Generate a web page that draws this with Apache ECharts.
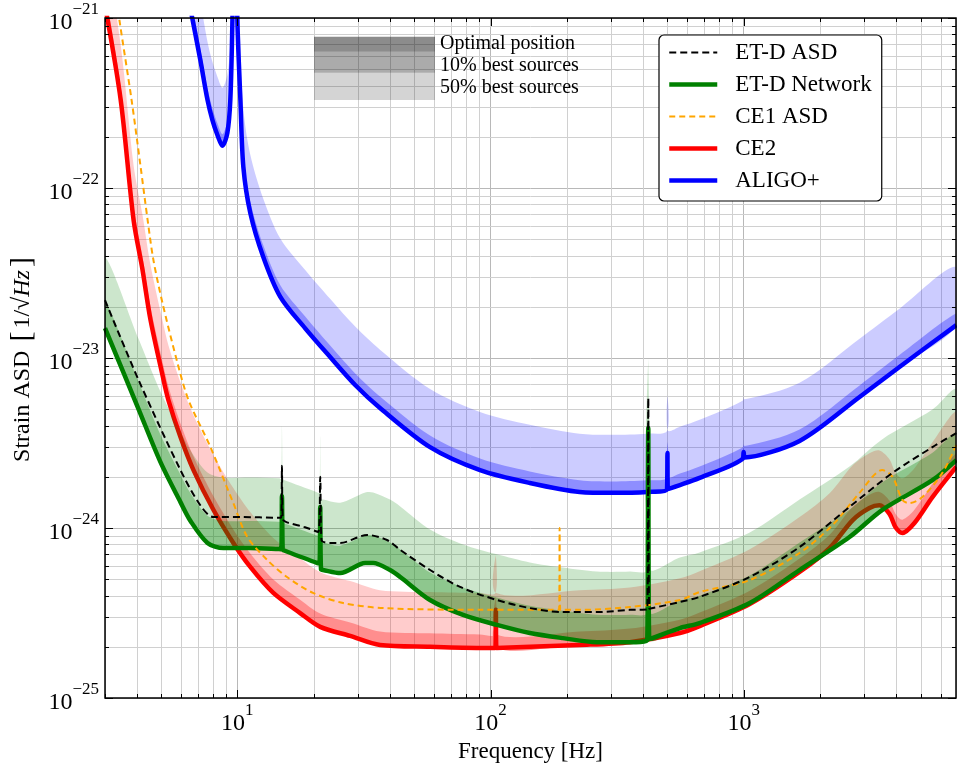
<!DOCTYPE html>
<html><head><meta charset="utf-8">
<script src="https://cdn.jsdelivr.net/npm/echarts@6/dist/echarts.min.js"></script>
<style>html,body{margin:0;padding:0;background:#fff}#c{width:957px;height:763px}</style>
</head><body><div id="c"></div>
<script>
// ---------------- data ----------------
const etdFreq = [3, 4.07, 5.96, 7.14, 8.04, 10.3, 14.5, 14.9, 15.0, 15.1, 15.7, 18.5, 20.9, 21.25, 21.5, 23.3, 25.5, 32.6, 39, 44, 57.7, 75.8, 106, 143, 193, 263, 355, 416, 420, 424, 560, 670, 1057, 1663, 2619, 3873, 5570, 6920];
const etdAsd = [2.19e-23, 7.43e-24, 2.19e-24, 1.36e-24, 1.16e-24, 1.16e-24, 1.15e-24, 1.15e-24, 2.32e-24, 1.13e-24, 1.08e-24, 1.01e-24, 9.47e-25, 2.0e-24, 8.5e-25, 8.17e-25, 8.17e-25, 9.1e-25, 8.5e-25, 7.43e-25, 5.66e-25, 4.5e-25, 3.77e-25, 3.38e-25, 3.2e-25, 3.2e-25, 3.3e-25, 3.32e-25, 5.82e-24, 3.35e-25, 3.67e-25, 3.93e-25, 5.15e-25, 7.73e-25, 1.33e-24, 2.11e-24, 2.99e-24, 3.62e-24];

const netFreq = [3, 4.07, 4.97, 5.96, 6.53, 7.62, 8.81, 11.25, 14.6, 14.9, 15.0, 15.1, 15.2, 20.7, 21.1, 21.25, 21.4, 21.8, 25.5, 32, 34.4, 40.1, 44, 57.7, 77.9, 106, 143, 193, 263, 355, 416, 420, 424, 560, 670, 1057, 1663, 2619, 3532, 5570, 6920];
const netLine = [1.50e-23, 5.01e-24, 2.44e-24, 1.42e-24, 1.10e-24, 8.17e-25, 7.62e-25, 7.62e-25, 7.52e-25, 7.5e-25, 1.54e-24, 7.45e-25, 7.4e-25, 6.22e-25, 6.2e-25, 1.33e-24, 5.7e-25, 5.66e-25, 5.43e-25, 6.22e-25, 6.22e-25, 5.66e-25, 5.15e-25, 3.77e-25, 3.08e-25, 2.69e-25, 2.41e-25, 2.25e-25, 2.13e-25, 2.13e-25, 2.19e-25, 3.87e-24, 2.22e-25, 2.58e-25, 2.76e-25, 3.62e-25, 5.66e-25, 8.85e-25, 1.28e-24, 1.91e-24, 2.51e-24];
const net10 = [2.18e-23, 7.26e-24, 3.54e-24, 2.06e-24, 1.60e-24, 1.18e-24, 1.10e-24, 1.10e-24, 1.09e-24, 1.09e-24, 2.23e-24, 1.08e-24, 1.07e-24, 9.02e-25, 8.99e-25, 1.93e-24, 8.27e-25, 8.21e-25, 7.87e-25, 9.02e-25, 9.02e-25, 8.21e-25, 7.47e-25, 5.47e-25, 4.47e-25, 3.9e-25, 3.49e-25, 3.26e-25, 3.09e-25, 3.09e-25, 3.18e-25, 5.61e-24, 3.22e-25, 3.74e-25, 4.0e-25, 5.25e-25, 8.21e-25, 1.28e-24, 1.86e-24, 2.77e-24, 3.64e-24];
const net50 = [3.90e-23, 1.30e-23, 6.34e-24, 3.69e-24, 2.86e-24, 2.12e-24, 1.98e-24, 1.98e-24, 1.96e-24, 1.95e-24, 4.0e-24, 1.94e-24, 1.92e-24, 1.62e-24, 1.61e-24, 3.46e-24, 1.48e-24, 1.47e-24, 1.41e-24, 1.62e-24, 1.62e-24, 1.47e-24, 1.34e-24, 9.8e-25, 8.0e-25, 7.0e-25, 6.27e-25, 5.85e-25, 5.54e-25, 5.54e-25, 5.69e-25, 1.01e-23, 5.77e-25, 6.71e-25, 7.18e-25, 9.41e-25, 1.47e-24, 2.3e-24, 3.33e-24, 4.97e-24, 6.53e-24];

const ce1Freq = [3.21, 3.42, 3.82, 4.14, 4.42, 4.66, 5.06, 5.80, 6.41, 7.83, 9.64, 10.95, 13.13, 15.7, 19.9, 26.2, 37.7, 90.9, 186.5, 187.5, 188.5, 225, 355, 560, 670, 1057, 1663, 2244, 2870, 3532, 3873, 4238, 4518, 5082, 6095, 6920];
const ce1Asd = [1.91e-21, 9.73e-22, 3.3e-22, 1.36e-22, 6.49e-23, 3.77e-23, 2.11e-23, 9.35e-24, 5.66e-24, 2.99e-24, 1.40e-24, 8.85e-25, 6.48e-25, 5.15e-25, 4.15e-25, 3.62e-25, 3.38e-25, 3.3e-25, 3.3e-25, 1.0e-24, 3.3e-25, 3.3e-25, 3.43e-25, 3.77e-25, 4.2e-25, 4.94e-25, 7.13e-25, 1.04e-24, 1.61e-24, 2.19e-24, 2.0e-24, 1.46e-24, 1.40e-24, 1.52e-24, 2.11e-24, 3.08e-24];

const ce2Freq = [3, 3.46, 3.89, 4.22, 4.54, 5.06, 5.34, 5.96, 6.71, 8.04, 9.64, 11.25, 13.87, 17.7, 21.25, 27.9, 36.6, 57.7, 90.9, 104.5, 105, 105.5, 225, 355, 560, 670, 1057, 1663, 2185, 2692, 3141, 3439, 3767, 3981, 4238, 4728, 5570, 6920];
const ce2Line = [1.19e-21, 3.3e-22, 6.49e-23, 3.3e-23, 1.67e-23, 7.94e-24, 5.66e-24, 3.43e-24, 2.19e-24, 1.28e-24, 8.17e-25, 5.9e-25, 4.15e-25, 3.16e-25, 2.62e-25, 2.32e-25, 2.05e-25, 2.0e-25, 1.97e-25, 1.97e-25, 3.3e-25, 1.97e-25, 2.05e-25, 2.13e-25, 2.41e-25, 2.65e-25, 3.57e-25, 5.51e-25, 7.62e-25, 1.11e-24, 1.31e-24, 1.36e-24, 1.21e-24, 1.01e-24, 9.35e-25, 1.07e-24, 1.52e-24, 2.29e-24];
const ce2_10 = [1.43e-21, 3.96e-22, 7.79e-23, 3.96e-23, 2.0e-23, 9.53e-24, 6.79e-24, 4.12e-24, 2.63e-24, 1.54e-24, 9.8e-25, 7.08e-25, 4.98e-25, 3.79e-25, 3.14e-25, 2.78e-25, 2.46e-25, 2.4e-25, 2.36e-25, 2.36e-25, 3.96e-25, 2.36e-25, 2.46e-25, 2.56e-25, 2.89e-25, 3.18e-25, 4.28e-25, 6.61e-25, 9.14e-25, 1.33e-24, 1.57e-24, 1.63e-24, 1.45e-24, 1.21e-24, 1.12e-24, 1.28e-24, 1.82e-24, 2.75e-24];
const ce2_50 = [2.5e-21, 6.93e-22, 1.36e-22, 6.93e-23, 3.51e-23, 1.67e-23, 1.19e-23, 7.2e-24, 4.6e-24, 2.69e-24, 1.72e-24, 1.24e-24, 8.72e-25, 6.64e-25, 5.5e-25, 4.87e-25, 4.31e-25, 4.2e-25, 4.14e-25, 4.14e-25, 6.93e-25, 4.14e-25, 4.31e-25, 4.47e-25, 5.06e-25, 5.57e-25, 7.5e-25, 1.16e-24, 1.6e-24, 2.33e-24, 2.75e-24, 2.86e-24, 2.54e-24, 2.12e-24, 1.96e-24, 2.25e-24, 3.19e-24, 4.81e-24];

const aligoFreq = [6.47, 7.14, 7.62, 7.97, 8.34, 8.73, 9.13, 9.38, 9.56, 9.78, 10.0, 10.28, 10.56, 11.25, 12.66, 14.78, 18.5, 23.3, 29.2, 36.6, 57.7, 90.9, 143, 225, 304, 416, 498, 500, 502, 560, 670, 990, 1000, 1010, 1663, 2870, 4125, 6920];
const aligoLine = [1.21e-21, 5.66e-22, 3.3e-22, 2.51e-22, 2.05e-22, 1.77e-22, 2.11e-22, 3.3e-22, 9.73e-22, 1e-20, 9.73e-22, 3.3e-22, 1.33e-22, 7.13e-23, 3.93e-23, 2.29e-23, 1.50e-23, 1.01e-23, 6.94e-24, 5.08e-24, 2.99e-24, 2.19e-24, 1.84e-24, 1.63e-24, 1.61e-24, 1.63e-24, 1.69e-24, 2.76e-24, 1.70e-24, 1.79e-24, 1.97e-24, 2.55e-24, 2.8e-24, 2.6e-24, 3.25e-24, 5.9e-24, 8.86e-24, 1.56e-23];
const aligo10 = [1.42e-21, 6.62e-22, 3.86e-22, 2.94e-22, 2.4e-22, 2.07e-22, 2.47e-22, 3.86e-22, 1.14e-21, 1.17e-20, 1.14e-21, 3.86e-22, 1.56e-22, 8.34e-23, 4.6e-23, 2.68e-23, 1.76e-23, 1.18e-23, 8.12e-24, 5.94e-24, 3.5e-24, 2.56e-24, 2.15e-24, 1.91e-24, 1.88e-24, 1.91e-24, 1.98e-24, 3.23e-24, 1.99e-24, 2.09e-24, 2.3e-24, 2.98e-24, 3.28e-24, 3.04e-24, 3.8e-24, 6.9e-24, 1.04e-23, 1.83e-23];
const aligo50 = [2.66e-21, 1.25e-21, 7.26e-22, 5.52e-22, 4.51e-22, 3.89e-22, 4.64e-22, 7.26e-22, 2.14e-21, 2.2e-20, 2.14e-21, 7.26e-22, 2.93e-22, 1.57e-22, 8.65e-23, 5.04e-23, 3.3e-23, 2.22e-23, 1.53e-23, 1.12e-23, 6.58e-24, 4.82e-24, 4.05e-24, 3.59e-24, 3.54e-24, 3.59e-24, 3.72e-24, 6.07e-24, 3.74e-24, 3.94e-24, 4.33e-24, 5.61e-24, 6.16e-24, 5.72e-24, 7.15e-24, 1.3e-23, 1.95e-23, 3.43e-23];

const legendNames = ['ET-D ASD', 'ET-D Network', 'CE1 ASD', 'CE2', 'ALIGO+'];
const shadeNames = ['Optimal position', '10% best sources', '50% best sources'];

const xMajor = [10, 100, 1000];
const xMinor = [3, 4, 5, 6, 7, 8, 9, 20, 30, 40, 50, 60, 70, 80, 90, 200, 300, 400, 500, 600, 700, 800, 900, 2000, 3000, 4000, 5000, 6000];
const yMajor = [1e-25, 1e-24, 1e-23, 1e-22, 1e-21];
const yMinor = [2e-25, 3e-25, 4e-25, 5e-25, 6e-25, 7e-25, 8e-25, 9e-25,
  2e-24, 3e-24, 4e-24, 5e-24, 6e-24, 7e-24, 8e-24, 9e-24,
  2e-23, 3e-23, 4e-23, 5e-23, 6e-23, 7e-23, 8e-23, 9e-23,
  2e-22, 3e-22, 4e-22, 5e-22, 6e-22, 7e-22, 8e-22, 9e-22];

// ---------------- chart ----------------
// ECharts rounds numbers to at most 20 decimals, so the strain axis works in
// units of 1e-25 (value * 1e25) and the labels restore the true exponent.
const Y_UNIT_EXP = 25;
const YS = 1e25;
const ys = v => v * YS;
const SMOOTH = 0.3;

const FONT = '"Liberation Serif", "Times New Roman", serif';
const chart = echarts.init(document.getElementById('c'), null, {renderer: 'canvas'});

function pairs(f, v) { return f.map((x, i) => [x, ys(v[i])]); }

function supFmt(value, shift) {
  const e = Math.log10(+value);
  const r = Math.round(e);
  if (Math.abs(e - r) > 0.01) return '';
  const p = r - shift;
  return '{b|10}{s|' + (p < 0 ? '\u2212' + (-p) : String(p)) + '}';
}
const richLabel = {
  b: {fontFamily: FONT, fontSize: 24, color: '#000', lineHeight: 34, verticalAlign: 'bottom'},
  s: {fontFamily: FONT, fontSize: 17, color: '#000', lineHeight: 17, verticalAlign: 'top'}
};

function lineSeries(name, f, v, color, width, dash, z) {
  return {
    name: name, type: 'line', data: pairs(f, v), symbol: 'none', showSymbol: false,
    z: z, clip: true, silent: true, smooth: SMOOTH,
    lineStyle: {color: color, width: width, type: dash || 'solid', cap: 'butt', join: 'round'},
    itemStyle: {color: color}, emphasis: {disabled: true}
  };
}

function bandSeries(name, f, lo, hi, color, z) {
  return {
    name: name, type: 'custom', z: z, silent: true, clip: true,
    data: [[f[0], ys(lo[0])]],
    renderItem: function (params, api) {
      const pts = [];
      for (let i = 0; i < f.length; i++) pts.push(api.coord([f[i], ys(hi[i])]));
      for (let i = f.length - 1; i >= 0; i--) pts.push(api.coord([f[i], ys(lo[i])]));
      const cs = params.coordSys;
      return {
        type: 'polygon', shape: {points: pts, smooth: SMOOTH}, style: {fill: color, stroke: null},
        clipPath: {type: 'rect', shape: {x: cs.x, y: cs.y, width: cs.width, height: cs.height}}
      };
    }
  };
}

const minorGrid = {
  name: 'minorgrid', type: 'custom', z: 1, silent: true, clip: false,
  data: [[10, ys(1e-23)]],
  renderItem: function (params, api) {
    const cs = params.coordSys;
    const L = cs.x, T = cs.y, R = cs.x + cs.width, B = cs.y + cs.height;
    const ch = [];
    xMinor.forEach(v => {
      const x = Math.round(api.coord([v, ys(1e-23)])[0]) + 0.5;
      if (x > L + 1 && x < R - 1) ch.push({type: 'line', shape: {x1: x, y1: T, x2: x, y2: B}, style: {stroke: '#d0d0d0', lineWidth: 1}});
    });
    yMinor.forEach(v => {
      const y = Math.round(api.coord([10, ys(v)])[1]) + 0.5;
      ch.push({type: 'line', shape: {x1: L, y1: y, x2: R, y2: y}, style: {stroke: '#d0d0d0', lineWidth: 1}});
    });
    return {type: 'group', children: ch};
  }
};

const frame = {
  name: 'frame', type: 'custom', z: 20, silent: true, clip: false,
  data: [[10, ys(1e-23)]],
  renderItem: function (params, api) {
    const cs = params.coordSys;
    const L = cs.x, T = cs.y, R = cs.x + cs.width, B = cs.y + cs.height;
    const ch = [];
    const seg = (x1, y1, x2, y2) => ch.push({type: 'line', shape: {x1, y1, x2, y2}, style: {stroke: '#000', lineWidth: 1}});
    xMajor.forEach(v => { const x = Math.round(api.coord([v, ys(1e-23)])[0]) + 0.5; seg(x, B, x, B - 8); seg(x, T, x, T + 8); });
    xMinor.forEach(v => { const x = Math.round(api.coord([v, ys(1e-23)])[0]) + 0.5; seg(x, B, x, B - 4); seg(x, T, x, T + 4); });
    yMajor.forEach(v => { const y = Math.round(api.coord([10, ys(v)])[1]) + 0.5; seg(L, y, L + 8, y); seg(R, y, R - 8, y); });
    yMinor.forEach(v => { const y = Math.round(api.coord([10, ys(v)])[1]) + 0.5; seg(L, y, L + 4, y); seg(R, y, R - 4, y); });
    ch.push({type: 'rect', shape: {x: L, y: T, width: cs.width, height: cs.height}, style: {fill: null, stroke: '#000', lineWidth: 1.5}});
    return {type: 'group', children: ch};
  }
};

const shadeColors = ['rgba(0,0,0,0.45)', 'rgba(0,0,0,0.33)', 'rgba(0,0,0,0.17)'];
const shadeBoxes = [[36.7, 15], [51.7, 21], [72.7, 27.3]];
const shadeTextY = [44, 66, 88];
const graphics = [];
shadeNames.forEach((t, i) => {
  graphics.push({type: 'rect', z: 30, shape: {x: 314, y: shadeBoxes[i][0], width: 121, height: shadeBoxes[i][1]}, style: {fill: shadeColors[i]}});
  graphics.push({type: 'text', z: 30, x: 440, y: shadeTextY[i], style: {text: t, fontFamily: FONT, fontSize: 20, fill: '#000', verticalAlign: 'middle', align: 'left'}});
});

const legendStyles = {
  'ET-D ASD': {color: '#000000', width: 2, type: [7, 4]},
  'ET-D Network': {color: '#008000', width: 4.5, type: 'solid'},
  'CE1 ASD': {color: '#ffa500', width: 2, type: [6, 4]},
  'CE2': {color: '#ff0000', width: 4.5, type: 'solid'},
  'ALIGO+': {color: '#0000ff', width: 4.5, type: 'solid'}
};

const option = {
  animation: false,
  backgroundColor: '#fff',
  grid: {left: 105, right: 1, top: 18, bottom: 65, containLabel: false, outerBoundsMode: 'none'},
  xAxis: {
    type: 'log', logBase: 10, min: 3, max: 6900,
    axisLine: {show: false}, axisTick: {show: false},
    axisLabel: {formatter: v => supFmt(v, 0), margin: 4, rich: richLabel},
    splitLine: {show: true, lineStyle: {color: '#b8b8b8', width: 1}},
    name: 'Frequency [Hz]', nameLocation: 'middle', nameGap: 30,
    nameTextStyle: {fontFamily: FONT, fontSize: 23, color: '#000'}
  },
  yAxis: {
    type: 'log', logBase: 10, min: ys(1e-25), max: ys(1e-21),
    axisLine: {show: false}, axisTick: {show: false},
    axisLabel: {formatter: v => supFmt(v, Y_UNIT_EXP), margin: 6, rich: richLabel},
    splitLine: {show: true, lineStyle: {color: '#b8b8b8', width: 1}},
    name: '{n|Strain ASD }{k|[}{n|1/\u221A}{i|Hz}{k|]}', nameLocation: 'middle', nameGap: 64, nameRotate: 90,
    nameTextStyle: {rich: {
      n: {fontFamily: FONT, fontSize: 24, color: '#000'},
      k: {fontFamily: FONT, fontSize: 30, color: '#000', padding: [0, 3, 0, 3]},
      i: {fontFamily: FONT, fontSize: 24, color: '#000', fontStyle: 'italic'}
    }}
  },
  legend: {
    data: legendNames.map(n => ({name: n, lineStyle: legendStyles[n], itemStyle: {opacity: 0}})),
    orient: 'vertical', left: 659, top: 35,
    itemWidth: 48, itemHeight: 14, itemGap: 9, padding: [6, 10, 9, 8],
    borderColor: '#000', borderWidth: 1.2, borderRadius: 5, backgroundColor: '#fff',
    itemStyle: {opacity: 0},
    textStyle: {fontFamily: FONT, fontSize: 23, color: '#000', lineHeight: 23, padding: [0, 0, 0, 13]},
    selectedMode: false, z: 30
  },
  graphic: graphics,
  series: [
    minorGrid,
    bandSeries('ce2_50', ce2Freq, ce2Line, ce2_50, 'rgba(255,0,0,0.2)', 2),
    bandSeries('ce2_10', ce2Freq, ce2Line, ce2_10, 'rgba(255,0,0,0.3)', 2),
    lineSeries('CE2', ce2Freq, ce2Line, '#ff0000', 4.5, null, 3),
    bandSeries('aligo_50', aligoFreq, aligoLine, aligo50, 'rgba(0,0,255,0.2)', 2),
    bandSeries('aligo_10', aligoFreq, aligoLine, aligo10, 'rgba(0,0,255,0.3)', 2),
    lineSeries('ALIGO+', aligoFreq, aligoLine, '#0000ff', 4.5, null, 5),
    bandSeries('net_50', netFreq, netLine, net50, 'rgba(0,128,0,0.2)', 4),
    bandSeries('net_10', netFreq, netLine, net10, 'rgba(0,128,0,0.3)', 4),
    lineSeries('ET-D Network', netFreq, netLine, '#008000', 4.5, null, 5),
    lineSeries('CE1 ASD', ce1Freq, ce1Asd, '#ffa500', 2, [6, 4], 6),
    lineSeries('ET-D ASD', etdFreq, etdAsd, '#000000', 2, [7, 4], 7),
    frame
  ]
};
chart.setOption(option);
</script>
</body></html>
